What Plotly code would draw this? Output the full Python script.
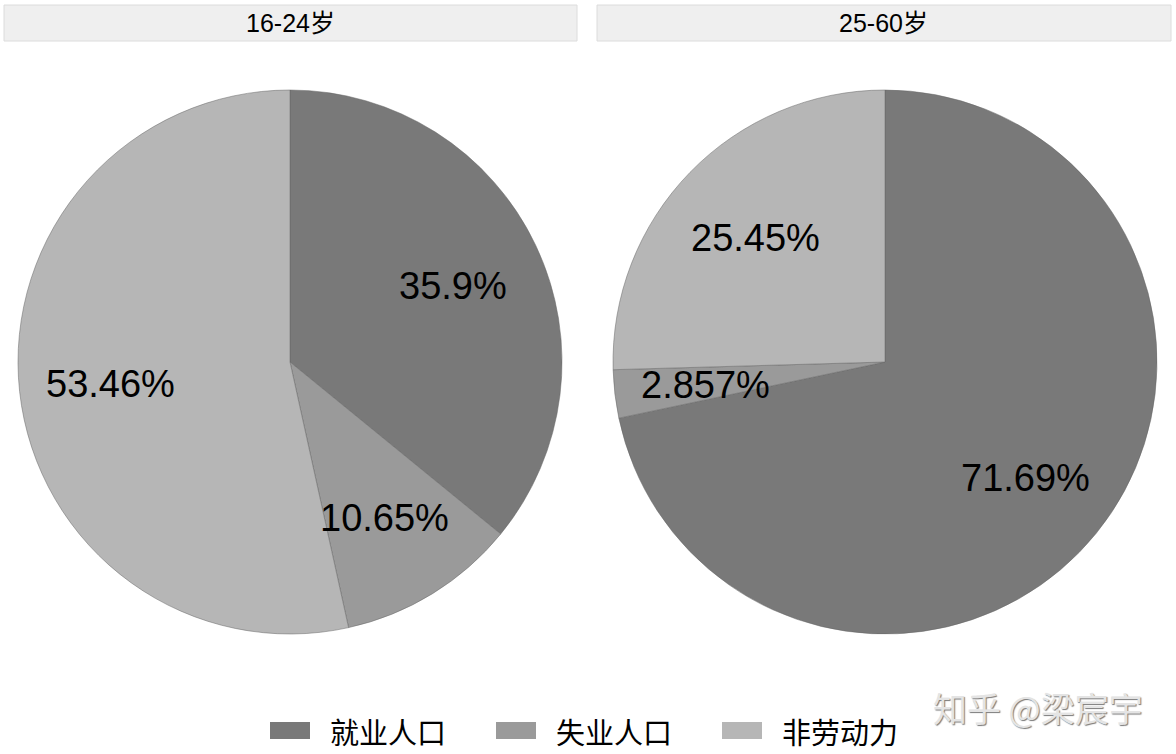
import plotly.graph_objects as go
import math

W, H = 1176, 754

categories = ["就业人口", "失业人口", "非劳动力"]
colors = ["#797979", "#9a9a9a", "#b6b6b6"]
panels = ["16-24岁", "25-60岁"]
values_16_24 = [35.9, 10.65, 53.46]
values_25_60 = [71.69, 2.857, 25.45]
series = [values_16_24, values_25_60]

# layout (pixels)
centers_x = [290, 885]
center_y = 362
R = 272
label_r = 0.665 * R

fig = go.Figure()
annotations = []
shapes = []

for i, (name, vals) in enumerate(zip(panels, series)):
    cx = centers_x[i]
    fig.add_trace(go.Pie(
        labels=categories,
        values=vals,
        sort=False,
        direction="clockwise",
        rotation=0,
        textinfo="none",
        hoverinfo="label+value",
        marker=dict(colors=colors, line=dict(color="#666666", width=0.5)),
        domain=dict(x=[(cx - R) / W, (cx + R) / W],
                    y=[(H - center_y - R) / H, (H - center_y + R) / H]),
        showlegend=False,
        name=name,
    ))
    total = sum(vals)
    cum = 0.0
    for v in vals:
        mid = (cum + v / 2) / total * 2 * math.pi
        cum += v
        px = cx + label_r * math.sin(mid)
        py = center_y - label_r * math.cos(mid)
        annotations.append(dict(
            x=px / W, y=1 - (py + 2) / H, xref="paper", yref="paper",
            text="%.4g%%" % v, showarrow=False,
            font=dict(family="Liberation Sans, Arial", size=38, color="black"),
            xanchor="center", yanchor="middle",
        ))

# facet strips
strips = [(4, 577), (597, 1171)]
for (x0, x1), name in zip(strips, panels):
    shapes.append(dict(type="rect", xref="paper", yref="paper",
                       x0=x0 / W, x1=x1 / W, y0=1 - 41 / H, y1=1 - 5 / H,
                       fillcolor="#efefef", line=dict(color="#dcdcdc", width=1),
                       layer="below"))
    annotations.append(dict(x=(x0 + x1) / 2 / W, y=1 - 23 / H, xref="paper", yref="paper",
                            text=name, showarrow=False,
                            font=dict(family="Liberation Sans, Noto Sans CJK SC", size=25, color="black"),
                            xanchor="center", yanchor="middle"))

# legend
leg_x0 = 270
leg_step = 226
for k, (cat, col) in enumerate(zip(categories, colors)):
    x0 = leg_x0 + k * leg_step
    shapes.append(dict(type="rect", xref="paper", yref="paper",
                       x0=x0 / W, x1=(x0 + 40) / W, y0=1 - 739 / H, y1=1 - 722 / H,
                       fillcolor=col, line=dict(width=0)))
    annotations.append(dict(x=(x0 + 58) / W, y=1 - 731 / H, xref="paper", yref="paper",
                            text=cat, showarrow=False, xanchor="left", yanchor="middle",
                            font=dict(family="Noto Sans CJK SC", size=29, color="black")))

# watermark
annotations.append(dict(x=1038 / W, y=1 - 707 / H, xref="paper", yref="paper",
                        text="知乎 @梁宸宇", showarrow=False, xanchor="center", yanchor="middle",
                        font=dict(family="Noto Sans CJK SC", size=34, color="#e4e4e4",
                                  shadow="1px 1px 1px #7a7a7a")))

fig.update_layout(
    width=W, height=H,
    margin=dict(l=0, r=0, t=0, b=0),
    paper_bgcolor="white", plot_bgcolor="white",
    annotations=annotations, shapes=shapes,
    showlegend=False,
)

fig.write_html("out.html", config={"displayModeBar": False},
               post_script="document.body.style.margin='0';document.body.style.overflow='hidden';")
